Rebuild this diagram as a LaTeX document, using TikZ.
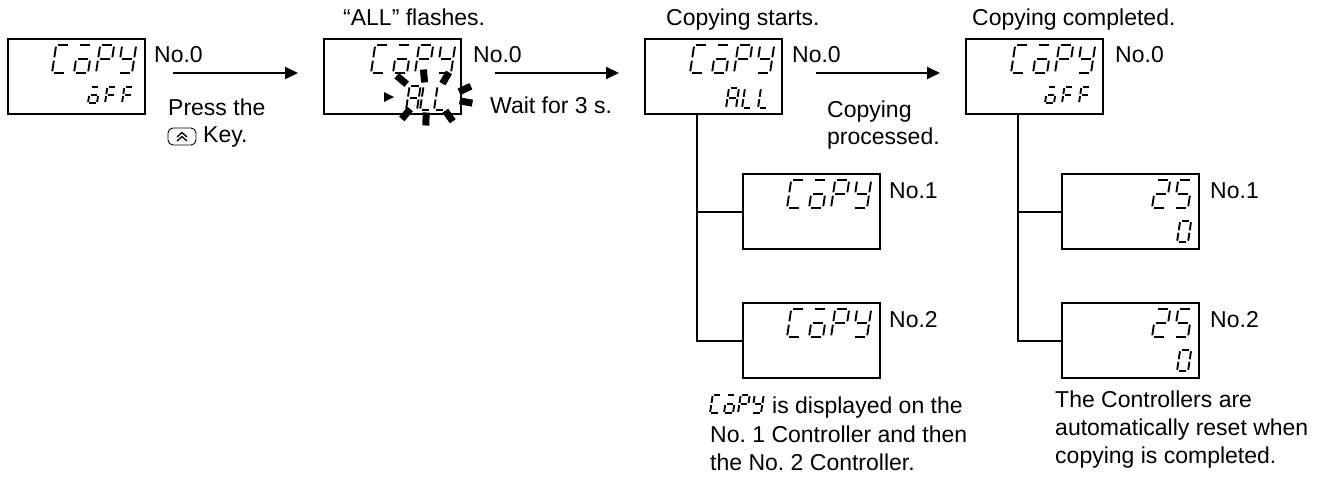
\documentclass[tikz,border=0pt]{standalone}
\usepackage{fontspec}
\setmainfont{Liberation Sans}
\usetikzlibrary{arrows.meta}
\frenchspacing
\tikzset{
  disp/.style={draw, line width=2.2pt, minimum width=137pt, minimum height=75pt, inner sep=0pt, anchor=north west},
  lbl/.style={anchor=base west, inner sep=0pt, font=\fontsize{23}{28}\selectfont},
  conn/.style={line width=2pt},
  flow/.style={line width=2pt, -{Triangle[length=13pt, width=12pt]}},
  segline/.style={line width=1.9pt, line cap=butt},
  flashbar/.style={line width=7pt},
}
\def\SSa{\draw[segline] (0.16,2) -- (0.84,2);}
\def\SSb{\draw[segline] (1,1.88) -- (1,1.12);}
\def\SSc{\draw[segline] (1,0.88) -- (1,0.12);}
\def\SSd{\draw[segline] (0.16,0) -- (0.84,0);}
\def\SSe{\draw[segline] (0,0.12) -- (0,0.88);}
\def\SSf{\draw[segline] (0,1.12) -- (0,1.88);}
\def\SSg{\draw[segline] (0.16,1) -- (0.84,1);}
\expandafter\def\csname GC\endcsname{a,d,e,f}
\expandafter\def\csname GO\endcsname{a,c,d,e,g}
\expandafter\def\csname GP\endcsname{a,b,e,f,g}
\expandafter\def\csname GY\endcsname{b,c,d,f,g}
\expandafter\def\csname GF\endcsname{a,e,f,g}
\expandafter\def\csname GA\endcsname{a,b,c,e,f,g}
\expandafter\def\csname GL\endcsname{d,e,f}
\expandafter\def\csname G2\endcsname{a,b,d,e,g}
\expandafter\def\csname G5\endcsname{a,c,d,f,g}
\expandafter\def\csname G0\endcsname{a,b,c,d,e,f}
% x, y(bottom), width, height, glyph macro
\newcommand\SevDig[5]{%
  \begin{scope}[shift={(#1,#2)}, xslant=0.15, xscale=#3, yscale=-#4/2]
    \foreach \s in #5 {\csname SS\s\endcsname}
  \end{scope}}
% x0, y(bottom), width, height, pitch, list of glyph names
\newcommand\SevWord[6]{%
  \foreach \g [count=\i from 0] in {#6} {%
    \expandafter\let\expandafter\curg\csname G\g\endcsname
    \SevDig{#1+\i*#5}{#2}{#3}{#4}{\curg}}}
\begin{document}
\begin{tikzpicture}[x=1pt, y=-1pt]
\useasboundingbox (0,0) rectangle (1322,477);

% display boxes
\node[disp] (b1) at (7,38) {};
\node[disp] (b2) at (323,38) {};
\node[disp] (b3) at (644,38) {};
\node[disp] (b4) at (965,38) {};
\node[disp] (b3a) at (742,173) {};
\node[disp] (b3b) at (742,302) {};
\node[disp] (b4a) at (1061,173) {};
\node[disp] (b4b) at (1061,302) {};

% seven-segment contents
\SevWord{52}{73}{14}{28}{22}{C,O,P,Y}
\SevWord{88}{103}{9}{16}{17}{O,F,F}
\SevWord{371}{73}{14}{28}{22}{C,O,P,Y}
\SevWord{406}{110}{11}{24}{14}{A,L,L}
\SevWord{690}{73}{14}{28}{22}{C,O,P,Y}
\SevWord{726}{108}{10}{20}{16}{A,L,L}
\SevWord{1011}{73}{14}{28}{22}{C,O,P,Y}
\SevWord{1045}{103}{9}{16}{17}{O,F,F}
\SevWord{787}{208}{14}{28}{22}{C,O,P,Y}
\SevWord{787}{337}{14}{28}{22}{C,O,P,Y}
\SevWord{1152}{208}{14}{28}{22}{2,5}
\SevWord{1177}{242}{11}{21}{14}{0}
\SevWord{1152}{337}{14}{28}{22}{2,5}
\SevWord{1177}{371}{11}{21}{14}{0}
\SevWord{710}{413}{9}{18}{14}{C,O,P,Y}

% flashing marks
\foreach \x/\y/\a in {401.7/80/-140, 424/76/-95, 445.7/78/-60, 465/89/-25,
                      466/102/10, 406/114/130, 426/119/92, 449/116/55}
  {\draw[flashbar] (\x,\y) ++(\a+180:6.5) -- ++(\a:13);}
\fill (384,92) -- (394,97) -- (384,102) -- cycle;

% arrows
\coordinate (a1s) at (173,73); \coordinate (a1e) at (298,73);
\coordinate (a2s) at (495,73); \coordinate (a2e) at (619,73);
\coordinate (a3s) at (816,73); \coordinate (a3e) at (940,73);
\draw[flow] (a1s) -- (a1e);
\draw[flow] (a2s) -- (a2e);
\draw[flow] (a3s) -- (a3e);

% tree connectors
\coordinate (t3) at (697,113);
\coordinate (t4) at (1018,113);
\draw[conn] (t3) |- (b3b.west);
\draw[conn] (t3 |- b3a.west) -- (b3a.west);
\draw[conn] (t4) |- (b4b.west);
\draw[conn] (t4 |- b4a.west) -- (b4a.west);

% key icon
\draw[line width=0.9pt, rounded corners=5pt] (168,128) rectangle (196,145);
\draw[line width=1.3pt] (177,137) -- (182,132.5) -- (187,137);
\draw[line width=1.3pt] (177,141) -- (182,136.5) -- (187,141);

% labels
\node[lbl] (n0a) at (154,62) {No.0};
\node[lbl] (n0b) at (473,62) {No.0};
\node[lbl] (n0c) at (792,62) {No.0};
\node[lbl] (n0d) at (1115,62) {No.0};
\node[lbl] (n1c) at (889,198) {No.1};
\node[lbl] (n2c) at (889,327) {No.2};
\node[lbl] (n1d) at (1210,198) {No.1};
\node[lbl] (n2d) at (1210,327) {No.2};
\node[lbl] (press) at (168,115) {Press the};
\node[lbl] (key) at (203,142) {Key.};
\node[lbl] (flash) at (343,25) {“ALL” flashes.};
\node[lbl] (wait) at (490,113) {Wait for 3 s.};
\node[lbl] (start) at (666,25) {Copying starts.};
\node[lbl] (proc1) at (827,117) {Copying};
\node[lbl] (proc2) at (827,144) {processed.};
\node[lbl] (done) at (972,25) {Copying completed.};
\node[lbl] (note3a) at (772,413) {is displayed on the};
\node[lbl] (note3b) at (710,442) {No. 1 Controller and then};
\node[lbl] (note3c) at (710,470) {the No. 2 Controller.};
\node[lbl] (note4a) at (1055,407) {The Controllers are};
\node[lbl] (note4b) at (1055,435) {automatically reset when};
\node[lbl] (note4c) at (1055,463) {copying is completed.};
\end{tikzpicture}
\end{document}
